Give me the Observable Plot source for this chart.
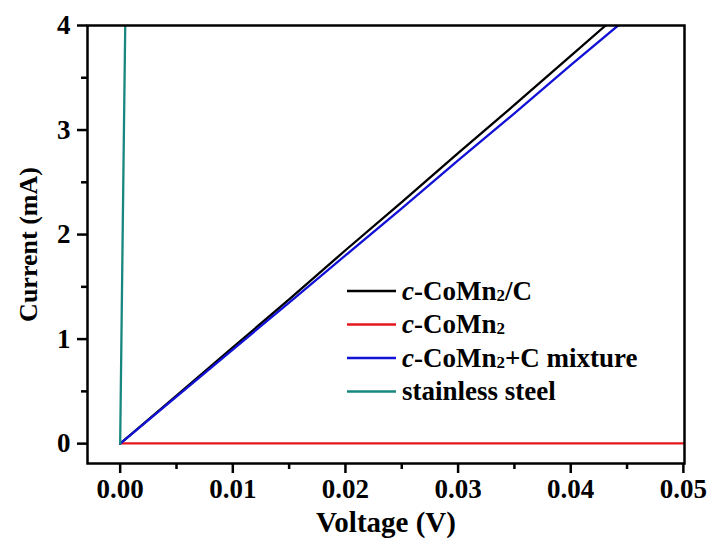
<!DOCTYPE html>
<html>
<head>
<meta charset="utf-8">
<script src="https://cdn.jsdelivr.net/npm/d3@7"></script>
<script src="https://cdn.jsdelivr.net/npm/@observablehq/plot@0.6"></script>
<style>
  html, body { margin: 0; padding: 0; background: #fff; }
  #chart { position: relative; width: 710px; height: 541px; }
</style>
</head>
<body>
<div id="chart"></div>
<script>
// ---- data ----
const seriesNames = ["c-CoMn2/C", "c-CoMn2", "c-CoMn2+C mixture", "stainless steel"];
const seriesColors = ["#000000", "#e5161e", "#1212d6", "#17877f"];

const blackV = [0, 0.005, 0.010, 0.015, 0.020, 0.025, 0.030, 0.035, 0.040, 0.0431];
const blackI = [0, 0.46, 0.92, 1.38, 1.85, 2.31, 2.78, 3.24, 3.71, 4.0];

const redV = [0, 0.010, 0.020, 0.030, 0.040, 0.050];
const redI = [0.002, 0.002, 0.002, 0.002, 0.002, 0.002];

const blueV = [0, 0.005, 0.010, 0.015, 0.020, 0.025, 0.030, 0.035, 0.040, 0.0442];
const blueI = [0, 0.45, 0.90, 1.35, 1.80, 2.25, 2.71, 3.16, 3.62, 4.0];

const steelV = [0, 0.0001, 0.0002, 0.0003, 0.00045];
const steelI = [0, 0.9, 1.8, 2.7, 4.0];

const xMajor = [0, 0.01, 0.02, 0.03, 0.04, 0.05];
const xMinor = [0.005, 0.015, 0.025, 0.035, 0.045];
const yMajor = [0, 1, 2, 3, 4];
const yMinor = [0.5, 1.5, 2.5, 3.5];

const xLabel = "Voltage (V)";
const yLabel = "Current (mA)";

// ---- build tables ----
function table(vs, is, name) { return vs.map((v, k) => ({V: v, I: is[k], s: name})); }
const rows = [
  ...table(blackV, blackI, seriesNames[0]),
  ...table(redV, redI, seriesNames[1]),
  ...table(blueV, blueI, seriesNames[2]),
  ...table(steelV, steelI, seriesNames[3])
];

const font = "'Liberation Serif', 'Times New Roman', serif";

const plot = Plot.plot({
  width: 710,
  height: 541,
  marginLeft: 87,
  marginRight: 26,
  marginTop: 25,
  marginBottom: 78,
  x: {domain: [-0.0029, 0.0501]},
  y: {domain: [-0.19, 4]},
  color: {domain: seriesNames, range: seriesColors},
  style: {fontFamily: font, fontWeight: "bold", fontSize: "27px", color: "#000", background: "#fff"},
  marks: [
    Plot.line(rows, {x: "V", y: "I", z: "s", stroke: "s", strokeWidth: 2.3, clip: true}),
    Plot.frame({stroke: "#000", strokeWidth: 2.5}),
    Plot.axisX({ticks: xMajor, tickSize: 10, tickPadding: 5, strokeWidth: 2.5, tickFormat: d => d.toFixed(2), label: null, fontSize: 27}),
    Plot.axisX({ticks: xMinor, tickSize: 6, strokeWidth: 2.5, tickFormat: () => "", label: null}),
    Plot.axisY({ticks: yMajor, tickSize: 10, tickPadding: 7, strokeWidth: 2.5, tickFormat: d => String(d), label: null, fontSize: 27}),
    Plot.axisY({ticks: yMinor, tickSize: 6, strokeWidth: 2.5, tickFormat: () => "", label: null}),
    Plot.text([xLabel], {frameAnchor: "bottom", dy: 59, lineAnchor: "middle", textAnchor: "middle", fontSize: 29, fontWeight: "bold"}),
    Plot.text([yLabel], {frameAnchor: "left", dx: -59, rotate: -90, lineAnchor: "middle", textAnchor: "middle", fontSize: 26, fontWeight: "bold"})
  ]
});

document.getElementById("chart").appendChild(plot);

// ---- legend (inside the plot area) ----
const svg = d3.select(plot);
const lg = svg.append("g")
  .attr("font-family", font).attr("font-weight", "bold").attr("font-size", 27)
  .attr("text-anchor", "start");
const x0 = 347, x1 = 396, tx = 402, y0 = 291, dyRow = 33.5;
seriesNames.forEach((name, k) => {
  const y = y0 + k * dyRow;
  lg.append("line").attr("x1", x0).attr("x2", x1).attr("y1", y).attr("y2", y)
    .attr("stroke", seriesColors[k]).attr("stroke-width", 2.6);
  const t = lg.append("text").attr("x", tx).attr("y", y).attr("dy", "0.33em")
    .attr("fill", "#000").attr("text-anchor", "start");
  if (name.startsWith("c-")) {
    const tail = name.slice(7); // after "c-CoMn2"
    t.append("tspan").attr("font-style", "italic").text("c");
    t.append("tspan").text("-CoMn");
    t.append("tspan").attr("font-size", 17).attr("dy", 1).text("2");
    if (tail) t.append("tspan").attr("dy", -1).text(tail);
  } else {
    t.text(name);
  }
});
</script>
</body>
</html>
